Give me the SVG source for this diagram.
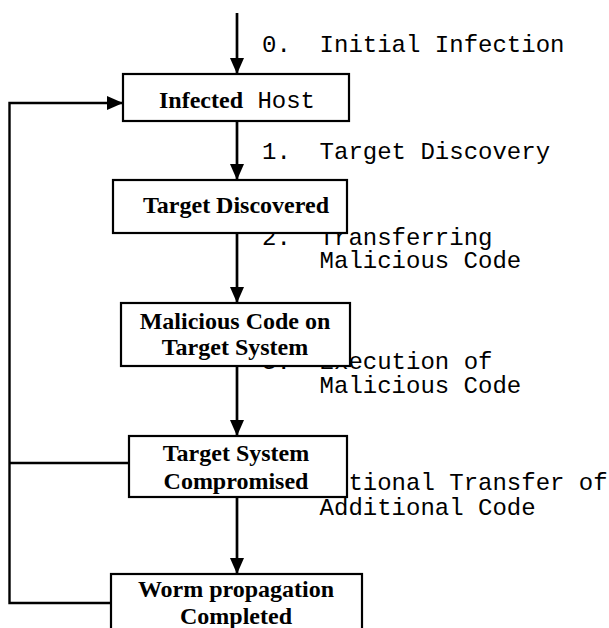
<svg xmlns="http://www.w3.org/2000/svg" width="609" height="628" viewBox="0 0 609 628">
<style>
.box{fill:#fff;stroke:#000;stroke-width:2.2}
.lbl{font-family:"Liberation Mono","Courier New",monospace;font-size:24px;fill:#000}
.nt{font-family:"Liberation Serif","Times New Roman",serif;font-size:24px;font-weight:bold;fill:#000;text-anchor:middle}
.ln{fill:none;stroke:#000;stroke-width:2.7}
.fb{fill:none;stroke:#000;stroke-width:2.4}
</style>
<defs>
<marker id="ah" markerUnits="userSpaceOnUse" markerWidth="16" markerHeight="14" refX="16" refY="7" orient="auto">
<path d="M0,0 L16,7 L0,14 z" fill="#000"/>
</marker>
</defs>
<g id="labels">
<text class="lbl" x="262" y="52" xml:space="preserve">0.  Initial Infection</text>
<text class="lbl" x="262" y="159" xml:space="preserve">1.  Target Discovery</text>
<text class="lbl" x="262" y="245" xml:space="preserve">2.  Transferring</text>
<text class="lbl" x="319.6" y="268">Malicious Code</text>
<text class="lbl" x="262" y="369" xml:space="preserve">3.  Execution of</text>
<text class="lbl" x="319.6" y="393">Malicious Code</text>
<text class="lbl" x="262" y="490" xml:space="preserve">4.  Optional Transfer of</text>
<text class="lbl" x="319.6" y="515">Additional Code</text>
</g>
<g id="connectors">
<line class="ln" x1="237" y1="13" x2="237" y2="74" marker-end="url(#ah)"/>
<line class="ln" x1="237" y1="121" x2="237" y2="180" marker-end="url(#ah)"/>
<line class="ln" x1="237" y1="233" x2="237" y2="303" marker-end="url(#ah)"/>
<line class="ln" x1="237" y1="366" x2="237" y2="436" marker-end="url(#ah)"/>
<line class="ln" x1="237" y1="497" x2="237" y2="574" marker-end="url(#ah)"/>
<polyline class="fb" points="111,603 9.5,603 9.5,103 123,103" marker-end="url(#ah)"/>
<line class="fb" x1="9.5" y1="463" x2="129" y2="463"/>
</g>
<g id="infected-host">
<rect class="box" x="123" y="74" width="226" height="47"/>
<text class="nt" x="237" y="108">Infected<tspan font-family="'Liberation Mono','Courier New',monospace" font-weight="normal" font-size="24px"> Host</tspan></text>
</g>
<g id="target-discovered">
<rect class="box" x="113" y="180" width="234" height="53"/>
<text class="nt" x="236" y="213">Target Discovered</text>
</g>
<g id="malicious-code">
<rect class="box" x="121" y="303" width="229" height="63"/>
<text class="nt" x="235" y="329">Malicious Code on</text>
<text class="nt" x="235" y="355">Target System</text>
</g>
<g id="target-compromised">
<rect class="box" x="129" y="436" width="218" height="61"/>
<text class="nt" x="236" y="461">Target System</text>
<text class="nt" x="236" y="489">Compromised</text>
</g>
<g id="worm-completed">
<rect class="box" x="111" y="574" width="251" height="70"/>
<text class="nt" x="236" y="597">Worm propagation</text>
<text class="nt" x="236" y="624">Completed</text>
</g>
</svg>
